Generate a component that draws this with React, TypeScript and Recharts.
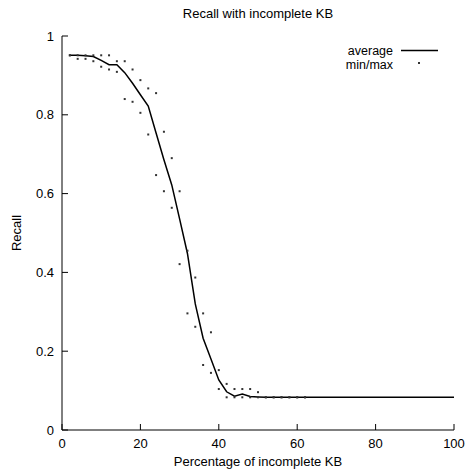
import React from 'react';
import { ComposedChart, Line, Scatter, XAxis, YAxis } from 'recharts';

const xCats = [2, 4, 6, 8, 10, 12, 14, 16, 18, 20, 22, 24, 26, 28, 30, 32, 34, 36, 38, 40, 42, 44, 46, 48, 50, 52, 54, 56, 58, 60, 62, 64, 66, 68, 70, 72, 74, 76, 78, 80, 82, 84, 86, 88, 90, 92, 94, 96, 98, 100];
const avgRecall = [0.951, 0.951, 0.95, 0.948, 0.938, 0.927, 0.927, 0.907, 0.88, 0.851, 0.822, 0.754, 0.686, 0.622, 0.536, 0.448, 0.32, 0.233, 0.18, 0.127, 0.097, 0.086, 0.091, 0.085, 0.084, 0.083, 0.083, 0.083, 0.083, 0.083, 0.083, 0.083, 0.083, 0.083, 0.083, 0.083, 0.083, 0.083, 0.083, 0.083, 0.083, 0.083, 0.083, 0.083, 0.083, 0.083, 0.083, 0.083, 0.083, 0.083];

const mmX = [2, 4, 6, 8, 10, 12, 14, 16, 18, 20, 22, 24, 26, 28, 30, 32, 34, 36, 38, 40, 42, 44, 46, 48, 50, 52, 54, 56, 58, 60, 62];
const maxRecall = [0.951, 0.951, 0.951, 0.951, 0.951, 0.951, 0.936, 0.936, 0.915, 0.888, 0.867, 0.855, 0.757, 0.69, 0.606, 0.455, 0.387, 0.296, 0.248, 0.152, 0.117, 0.104, 0.104, 0.104, 0.096, 0.083, 0.083, 0.083, 0.083, 0.083, 0.083];
const minRecall = [0.951, 0.942, 0.942, 0.936, 0.922, 0.915, 0.909, 0.84, 0.833, 0.805, 0.75, 0.647, 0.606, 0.564, 0.421, 0.296, 0.262, 0.165, 0.145, 0.104, 0.083, 0.083, 0.083, 0.083, 0.083, 0.083, 0.083, 0.083, 0.083, 0.083, 0.083];

const xTicks = [0, 20, 40, 60, 80, 100];
const yTicks = [0, 0.2, 0.4, 0.6, 0.8, 1];

const lineData = xCats.map((x, i) => ({ x, avg: avgRecall[i] }));
const maxData = mmX.map((x, i) => ({ x, y: maxRecall[i] }));
const minData = mmX.map((x, i) => ({ x, y: minRecall[i] }));

const FONT = '"Liberation Sans", Arial, Helvetica, sans-serif';
const TICK_LEN = 6;
const X_LABEL_GAP = 9;
const Y_LABEL_GAP = 8;

const Dot = (props: any) => {
  const { cx, cy } = props;
  if (cx == null || cy == null || isNaN(cx) || isNaN(cy)) return null;
  return <rect x={cx - 1} y={cy - 1} width={2} height={2} fill="#333" />;
};

// Bottom axis: label below, tick line pointing up into the plot
const BottomTick = (props: any) => {
  const { x, y, payload } = props;
  const axisY = y - X_LABEL_GAP;
  return (
    <g>
      <line x1={x} y1={axisY} x2={x} y2={axisY - TICK_LEN} stroke="#000" strokeWidth={1} />
      <text x={x} y={y} dy="0.71em" textAnchor="middle" fontSize={13} fontFamily={FONT} fill="#000">
        {String(payload.value)}
      </text>
    </g>
  );
};

// Top axis: mirror tick pointing down
const TopTick = (props: any) => {
  const { x, y } = props;
  return <line x1={x} y1={y} x2={x} y2={y + TICK_LEN} stroke="#000" strokeWidth={1} />;
};

// Left axis: label left, tick pointing right
const LeftTick = (props: any) => {
  const { x, y, payload } = props;
  const axisX = x + Y_LABEL_GAP;
  return (
    <g>
      <line x1={axisX} y1={y} x2={axisX + TICK_LEN} y2={y} stroke="#000" strokeWidth={1} />
      <text x={x} y={y} dy="0.355em" textAnchor="end" fontSize={13} fontFamily={FONT} fill="#000">
        {String(payload.value)}
      </text>
    </g>
  );
};

// Right axis: mirror tick pointing left
const RightTick = (props: any) => {
  const { x, y } = props;
  return <line x1={x} y1={y} x2={x - TICK_LEN} y2={y} stroke="#000" strokeWidth={1} />;
};

export default function App() {
  return (
    <div style={{ position: 'absolute', left: 0, top: 0, width: 466, height: 470, background: '#fff' }}>
      <ComposedChart
        width={466}
        height={470}
        data={lineData}
        margin={{ top: 36, right: 12, bottom: 0, left: 0 }}
      >
        <XAxis
          xAxisId="bottom"
          dataKey="x"
          type="number"
          domain={[0, 100]}
          ticks={xTicks}
          allowDataOverflow
          height={40}
          tickSize={0}
          tickMargin={X_LABEL_GAP}
          tick={<BottomTick />}
          tickLine={false}
          axisLine={{ stroke: '#000', strokeWidth: 1 }}
        />
        <XAxis
          xAxisId="top"
          orientation="top"
          dataKey="x"
          type="number"
          domain={[0, 100]}
          ticks={xTicks}
          allowDataOverflow
          height={0}
          tickSize={0}
          tickMargin={0}
          tick={<TopTick />}
          tickLine={false}
          axisLine={{ stroke: '#000', strokeWidth: 1 }}
        />
        <YAxis
          yAxisId="left"
          type="number"
          domain={[0, 1]}
          ticks={yTicks}
          allowDataOverflow
          width={62}
          tickSize={0}
          tickMargin={Y_LABEL_GAP}
          tick={<LeftTick />}
          tickLine={false}
          axisLine={{ stroke: '#000', strokeWidth: 1 }}
        />
        <YAxis
          yAxisId="right"
          orientation="right"
          type="number"
          domain={[0, 1]}
          ticks={yTicks}
          allowDataOverflow
          width={0}
          tickSize={0}
          tickMargin={0}
          tick={<RightTick />}
          tickLine={false}
          axisLine={{ stroke: '#000', strokeWidth: 1 }}
        />
        <Line
          xAxisId="bottom"
          yAxisId="left"
          type="linear"
          dataKey="avg"
          stroke="#000"
          strokeWidth={1.5}
          dot={false}
          activeDot={false}
          isAnimationActive={false}
        />
        <Scatter
          xAxisId="bottom"
          yAxisId="left"
          data={maxData}
          dataKey="y"
          shape={<Dot />}
          isAnimationActive={false}
        />
        <Scatter
          xAxisId="bottom"
          yAxisId="left"
          data={minData}
          dataKey="y"
          shape={<Dot />}
          isAnimationActive={false}
        />
      </ComposedChart>
      <svg
        width={466}
        height={470}
        style={{ position: 'absolute', left: 0, top: 0, pointerEvents: 'none' }}
      >
        <text x={258} y={18} textAnchor="middle" fontSize={13} fontFamily={FONT} fill="#000">
          Recall with incomplete KB
        </text>
        <text x={258} y={466} textAnchor="middle" fontSize={13} fontFamily={FONT} fill="#000">
          Percentage of incomplete KB
        </text>
        <text
          x={21}
          y={233}
          textAnchor="middle"
          fontSize={13}
          fontFamily={FONT}
          fill="#000"
          transform="rotate(-90, 21, 233)"
        >
          Recall
        </text>
        <text x={393} y={54.5} textAnchor="end" fontSize={12.5} fontFamily={FONT} fill="#000">
          average
        </text>
        <line x1={401} y1={50.5} x2={438} y2={50.5} stroke="#000" strokeWidth={1.5} />
        <text x={393} y={68.5} textAnchor="end" fontSize={12.5} fontFamily={FONT} fill="#000">
          min/max
        </text>
        <rect x={418} y={62} width={2} height={2} fill="#333" />
      </svg>
    </div>
  );
}
